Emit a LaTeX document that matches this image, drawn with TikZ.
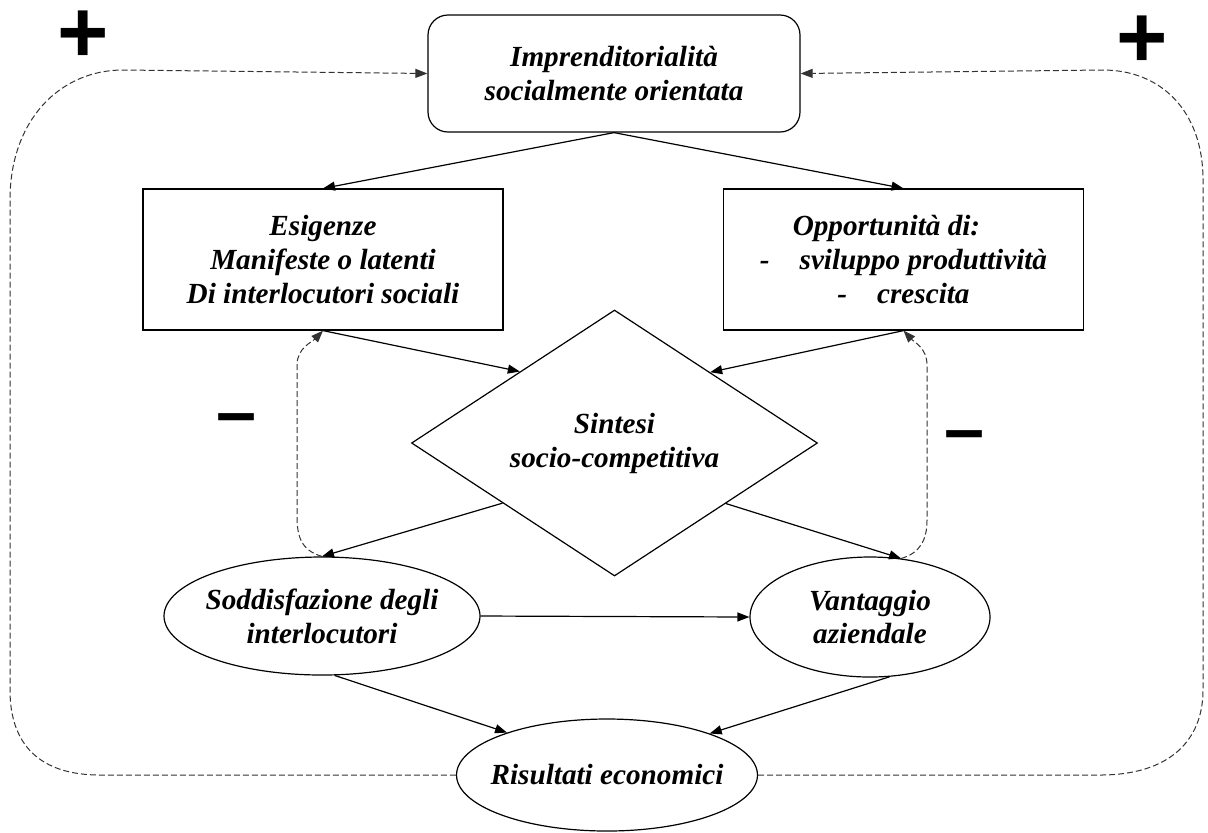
\documentclass[tikz,border=0pt]{standalone}
\usepackage{fontspec}
\setmainfont{Liberation Serif}
\newfontfamily\signfont{Liberation Sans}
\usetikzlibrary{shapes.geometric,arrows.meta,calc}

\begin{document}
\begin{tikzpicture}[x=0.5pt,y=-0.5pt,
  every node/.style={font=\fontsize{14.6}{17}\selectfont\bfseries\itshape, align=center, inner sep=0pt},
  headbox/.style={draw, rounded corners=10pt, minimum width=186pt, minimum height=58.5pt, line width=0.6pt},
  infobox/.style={draw, minimum width=180pt, minimum height=70.5pt, line width=0.6pt},
  synth/.style={draw, diamond, aspect=1.53, minimum width=203pt, minimum height=133pt, line width=0.6pt},
  result/.style={draw, ellipse, line width=0.6pt},
  flow/.style={line width=0.6pt, -{Triangle[length=6pt,width=4.5pt]}},
  loop/.style={line width=0.5pt, black!80, dash pattern=on 3pt off 1.5pt},
  loopend/.style={loop, -{Triangle[length=6pt,width=4.5pt]}},
  sign/.style={font=\signfont\bfseries\fontsize{44}{44}\selectfont},
  minus/.style={font=\signfont\bfseries\fontsize{36}{36}\selectfont}
]
\useasboundingbox (0,0) rectangle (1208,832);

% main blocks
\node[headbox] (top) at (614,73.5) {Imprenditorialità\\socialmente orientata};
\node[infobox] (needs) at (323,259.5) {Esigenze\\Manifeste o latenti\\Di interlocutori sociali};
\node[infobox] (opps) at (903.5,259.5) {Opportunità di:\hspace*{17pt}\\-\hspace{15pt}sviluppo produttività\\-\hspace{15pt}crescita};
\node[synth] (synth) at (614.5,443) {Sintesi\\socio-competitiva};
\node[result, minimum width=158pt, minimum height=59pt, inner xsep=-2.5pt] (sat) at (322,616) {Soddisfazione degli\\interlocutori};
\node[result, minimum width=120pt, minimum height=60pt] (adv) at (870,617) {Vantaggio\\aziendale};
\node[result, minimum width=150pt, minimum height=56pt, inner xsep=-5pt] (res) at (607,775) {Risultati economici};

% loop polarity signs
\node[sign] (plusL) at (83,37) {+};
\node[sign] (plusR) at (1142,42) {+};
\node[minus] (minusL) at (237,425) {–};
\node[minus] (minusR) at (965,442) {–};

% causal links
\draw[flow] (top.south) -- (needs.north);
\draw[flow] (top.south) -- (opps.north);
\draw[flow] (needs.south) -- ($(synth.west)!0.535!(synth.north)$);
\draw[flow] (opps.south) -- ($(synth.east)!0.53!(synth.north)$);
\draw[flow] ($(synth.west)!0.45!(synth.south)$) -- (sat.north);
\draw[flow] ($(synth.east)!0.453!(synth.south)$) -- (adv.62);
\draw[flow] (sat.east) -- (adv.west);
\draw[flow] (sat.-78) -- (res.157);
\draw[flow] (adv.-72) -- (res.22);

% negative feedback loops
\draw[loopend] (sat.north) .. controls (300,550) and (297,535) .. (297,515)
  -- (297,365) .. controls (297,348) and (312,342) .. (needs.south);
\draw[loopend] (adv.62) .. controls (920,553) and (927,540) .. (927,520)
  -- (927,365) .. controls (927,348) and (914,342) .. (opps.south);

% positive feedback loops
\draw[loopend] (res.west) -- (100,775) .. controls (40,775) and (10,745) .. (10,690)
  -- (10,200) .. controls (10,120) and (60,70) .. (123,70) -- (top.west);
\draw[loopend] (res.east) -- (1100,775) .. controls (1170,775) and (1203,740) .. (1203,690)
  -- (1203,180) .. controls (1203,110) and (1160,70) .. (1103,70) -- (top.east);
\end{tikzpicture}
\end{document}
